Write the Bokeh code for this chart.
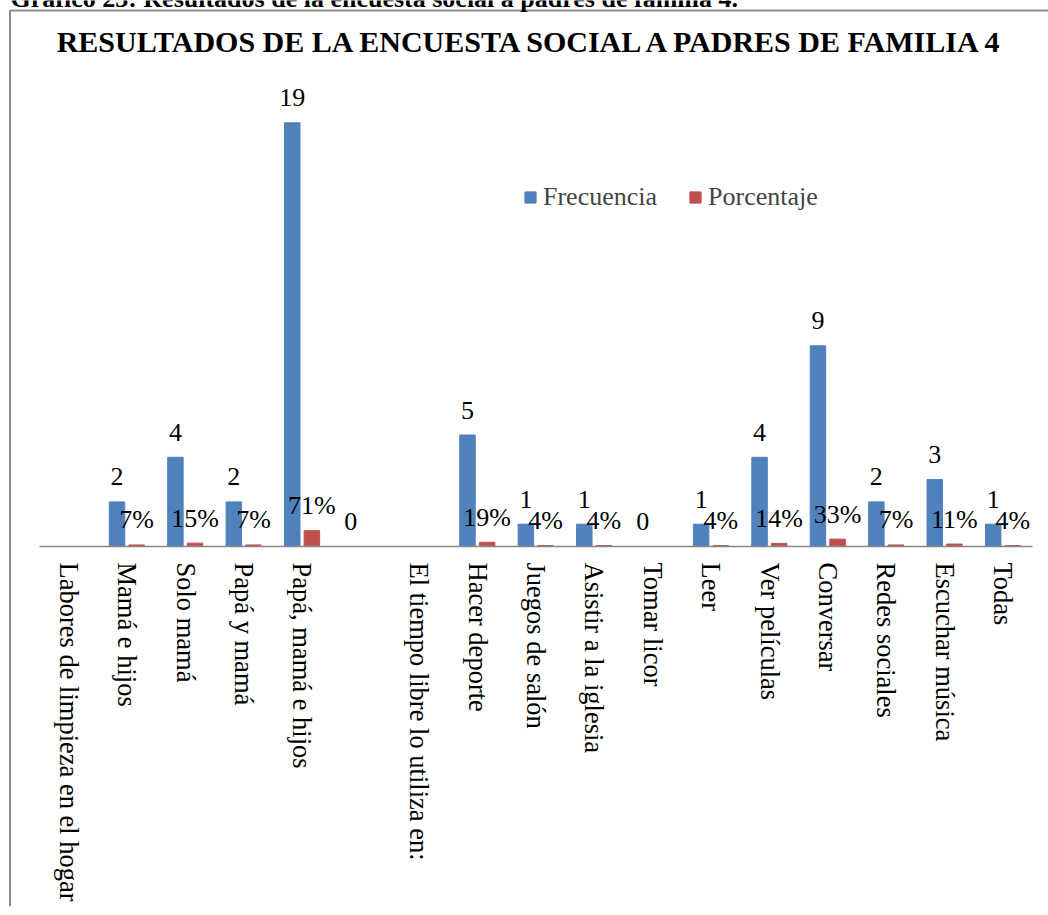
import math
from bokeh.plotting import figure
from bokeh.models import ColumnDataSource, Range1d
from bokeh.core.properties import value
from bokeh.embed import file_html
from bokeh.resources import INLINE

caption = "Gráfico 23: Resultados de la encuesta social a padres de familia 4."
title = "RESULTADOS DE LA ENCUESTA SOCIAL A PADRES DE FAMILIA 4"
categories = ["Labores de limpieza en el hogar", "Mamá  e hijos", "Solo mamá", "Papá y mamá",
              "Papá, mamá e hijos", " ", "El tiempo libre lo utiliza en:", "Hacer deporte",
              "Juegos de salón", "Asistir a la iglesia", "Tomar licor", "Leer", "Ver películas",
              "Conversar", "Redes sociales", "Escuchar música", "Todas"]
frecuencia = [None, 2, 4, 2, 19, 0, None, 5, 1, 1, 0, 1, 4, 9, 2, 3, 1]
porcentaje = [None, 0.07, 0.15, 0.07, 0.71, None, None, 0.19, 0.04, 0.04, None, 0.04, 0.14, 0.33, 0.07, 0.11, 0.04]
series = ["Frecuencia", "Porcentaje"]

FONT = "Liberation Serif"
BLUE = "#4F81BD"
RED = "#C0504D"
GRAY = "#8C8C8C"

# layout (pixels)
W, H = 1048, 906
X_LEFT, X_RIGHT = 39, 1032
Y_TOP, Y_AXIS = 100, 546
Y_MAX = 20
N = len(categories)
cw = (X_RIGHT - X_LEFT) / N
uy = (Y_AXIS - Y_TOP) / Y_MAX


def dx(px):
    return (px - X_LEFT) / cw


def dy(py):
    return (Y_AXIS - py) / uy


OFF_F, OFF_P, BW = -0.173, 0.163, 0.265
pos = [i + 0.5 for i in range(N)]

src_f = ColumnDataSource(dict(
    x=[p_ + OFF_F for p_, v in zip(pos, frecuencia) if v is not None],
    top=[v for v in frecuencia if v is not None],
    t=[str(v) for v in frecuencia if v is not None]))
src_p = ColumnDataSource(dict(
    x=[p_ + OFF_P for p_, v in zip(pos, porcentaje) if v is not None],
    top=[v for v in porcentaje if v is not None],
    t=["%d%%" % round(v * 100) for v in porcentaje if v is not None]))
lab_p = ColumnDataSource(dict(
    x=[p_ + OFF_P for p_, v in zip(pos, porcentaje) if v],
    y=[v for v in porcentaje if v],
    t=["%d%%" % round(v * 100) for v in porcentaje if v]))
src_c = ColumnDataSource(dict(x=pos, y=[dy(562)] * N, t=categories))

p = figure(width=W, height=H, x_range=Range1d(dx(0), dx(W)), y_range=Range1d(dy(H), dy(0)),
           x_axis_location=None, y_axis_location=None, min_border=0,
           output_backend="svg", toolbar_location=None, tools="")
p.outline_line_color = None
p.background_fill_color = "white"
p.border_fill_color = "white"
p.xgrid.visible = False
p.ygrid.visible = False

# chart border (left and top edges visible)
p.line(x=[dx(9.5), dx(9.5), dx(W + 5)], y=[dy(H + 5), dy(10), dy(10)],
       line_color=GRAY, line_width=2)

p.vbar(x="x", top="top", width=BW, source=src_f, fill_color=BLUE, line_color=BLUE,
       legend_label=series[0])
p.vbar(x="x", top="top", width=BW, source=src_p, fill_color=RED, line_color=RED,
       legend_label=series[1])

# category axis line
p.line(x=[0, N], y=[0, 0], line_color="#868686", line_width=1.5)

p.text(x="x", y="top", text="t", source=src_f, text_font=value(FONT), text_font_size="26px",
       text_align="center", text_baseline="alphabetic", y_offset=-25, text_color="black")
p.text(x="x", y="y", text="t", source=lab_p, text_font=value(FONT), text_font_size="26px",
       text_align="center", text_baseline="alphabetic", y_offset=-25, text_color="black")

# category labels, rotated to read top-to-bottom
p.text(x="x", y="y", text="t", source=src_c, angle=-math.pi / 2, text_font=value(FONT),
       text_font_size="26.5px", text_align="left", text_baseline="middle", text_color="black")

# title and (cropped) caption
p.text(x=[dx(532.5)], y=[dy(41)], text=[title], text_font=value(FONT), text_font_size="30px",
       text_font_style="bold", text_align="center", text_baseline="middle", text_color="black")
p.text(x=[dx(10)], y=[dy(7)], text=[caption], text_font=value(FONT), text_font_size="26px",
       text_font_style="bold", text_align="left", text_baseline="alphabetic", y_offset=-9,
       text_color="black")

lg = p.legend[0]
lg.orientation = "horizontal"
lg.location = (523, 694)
lg.border_line_color = None
lg.background_fill_alpha = 0
lg.padding = 0
lg.margin = 0
lg.spacing = 31
lg.glyph_width = 14
lg.glyph_height = 14
lg.label_standoff = 6
lg.label_text_font = FONT
lg.label_text_font_size = "26px"

open("out.html", "w").write(file_html(p, INLINE))
